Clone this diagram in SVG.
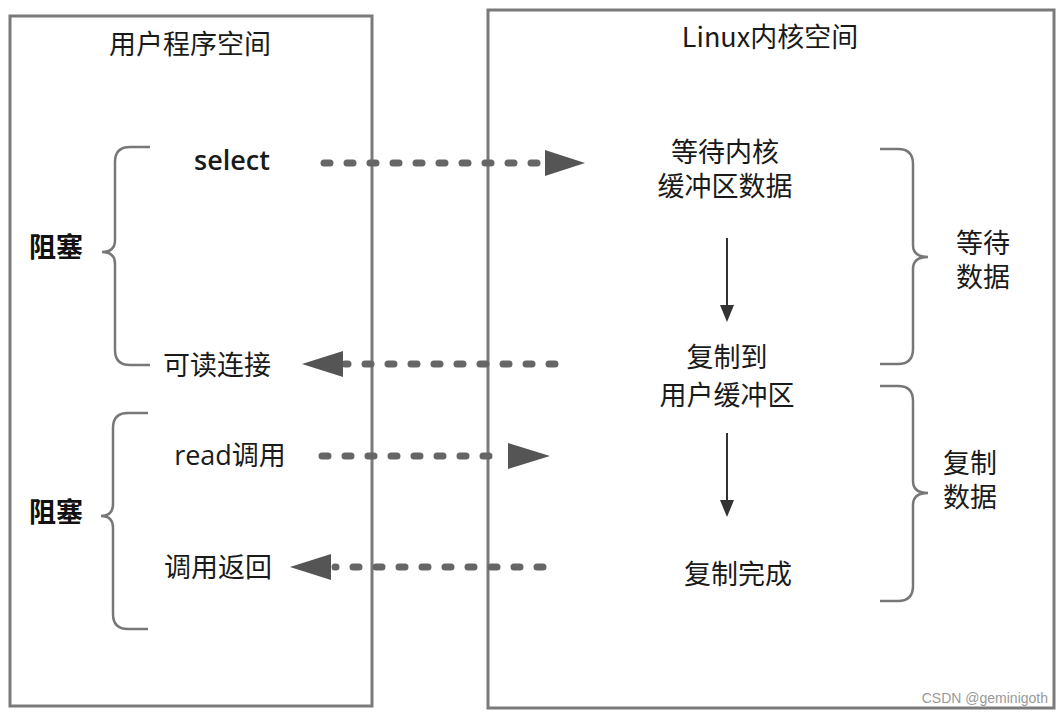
<svg xmlns="http://www.w3.org/2000/svg" width="1064" height="717" viewBox="0 0 1064 717">
<defs>
<style>
.box{fill:#fff;stroke:#7a7a7a;stroke-width:3}
.t{font-family:"Noto Sans CJK SC","Open Sans",sans-serif;font-size:27px;fill:#1a1a1a;text-anchor:middle}
.lat{font-family:"Open Sans","Noto Sans CJK SC",sans-serif}
.b{font-weight:bold;fill:#111}
.brace{fill:none;stroke:#777;stroke-width:2.5}
.dash{fill:none;stroke:#666;stroke-width:7;stroke-linecap:round;stroke-dasharray:6 17}
.head{fill:#555}
.v{stroke:#333;stroke-width:2}
.vh{fill:#333}
</style>
</defs>
<rect width="1064" height="717" fill="#fff"/>
<g id="user-space">
<rect class="box" x="10" y="16" width="362" height="690"/>
<text class="t" x="190" y="54" font-size="26">用户程序空间</text>
</g>
<g id="kernel-space">
<rect class="box" x="488" y="10" width="566" height="698"/>
<text class="t" x="770" y="47" font-size="26">Linux内核空间</text>
</g>
<g id="select"><text class="t lat" x="232" y="170" font-size="29" font-weight="600">select</text></g>
<g id="block1"><text class="t b" x="56" y="257">阻塞</text></g>
<g id="readable"><text class="t" x="217" y="375">可读连接</text></g>
<g id="read-call"><text class="t lat" x="230" y="465">read调用</text></g>
<g id="block2"><text class="t b" x="56" y="522">阻塞</text></g>
<g id="call-return"><text class="t" x="218" y="577">调用返回</text></g>
<g id="wait-kernel"><text class="t" x="725" y="162">等待内核</text><text class="t" x="725" y="196">缓冲区数据</text></g>
<g id="copy-to"><text class="t" x="727" y="367">复制到</text><text class="t" x="727" y="405">用户缓冲区</text></g>
<g id="copy-done"><text class="t" x="738" y="584">复制完成</text></g>
<g id="wait-data"><text class="t" x="983" y="253">等待</text><text class="t" x="983" y="287">数据</text></g>
<g id="copy-data"><text class="t" x="970" y="473">复制</text><text class="t" x="970" y="507">数据</text></g>
<g id="braces">
<path class="brace" d="M150,147 H130 Q115,147 115,162 V240 Q115,252 102,252 Q115,252 115,264 V350 Q115,365 130,365 H150"/>
<path class="brace" d="M148,413 H128 Q113,413 113,428 V504 Q113,516 101,516 Q113,516 113,528 V614 Q113,629 128,629 H148"/>
<path class="brace" d="M880,149 H898 Q913,149 913,164 V245 Q913,257 928,257 Q913,257 913,269 V349 Q913,364 898,364 H880"/>
<path class="brace" d="M880,386 H898 Q913,386 913,401 V481 Q913,493 928,493 Q913,493 913,505 V586 Q913,601 898,601 H880"/>
</g>
<g id="connectors">
<line class="dash" x1="324" y1="163" x2="540" y2="163"/>
<polygon class="head" points="545,150 585,163 545,176"/>
<line class="dash" x1="555" y1="364" x2="345" y2="364"/>
<polygon class="head" points="343,351 302,364 343,377"/>
<line class="dash" x1="322" y1="456" x2="503" y2="456"/>
<polygon class="head" points="508,443 550,456 508,469"/>
<line class="dash" x1="543" y1="567" x2="335" y2="567"/>
<polygon class="head" points="331,554 290,567 331,580"/>
<line class="v" x1="727" y1="238" x2="727" y2="308"/>
<polygon class="vh" points="720,305 734,305 727,322"/>
<line class="v" x1="727" y1="433" x2="727" y2="503"/>
<polygon class="vh" points="720,500 734,500 727,517"/>
</g>
<text x="1048" y="703" font-family="Liberation Sans, sans-serif" font-size="14" fill="#999" text-anchor="end">CSDN @geminigoth</text>
</svg>
